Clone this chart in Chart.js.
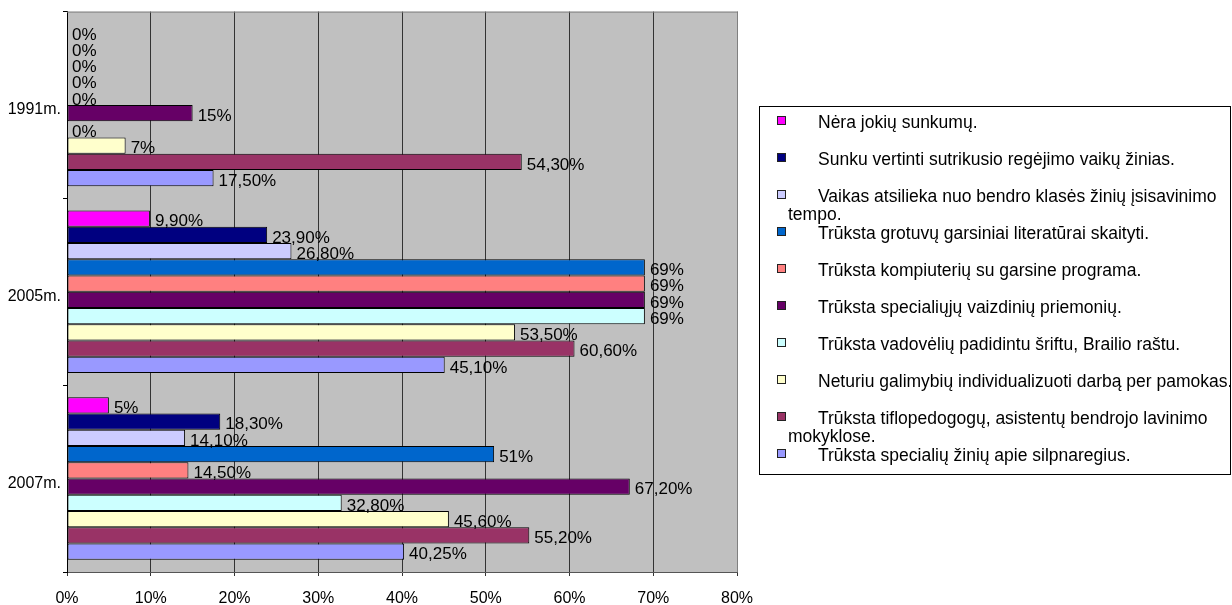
<!DOCTYPE html>
<html>
<head>
<meta charset="utf-8">
<script src="https://cdn.jsdelivr.net/npm/chart.js@4/dist/chart.umd.min.js"></script>
<style>
  body { margin: 0; background: #fff; font-family: "Liberation Sans", Arial, sans-serif; }
  #wrap { position: relative; width: 1232px; height: 605px; }
  #legend { position: absolute; left: 759px; top: 106px; width: 470px; height: 367px;
            border: 1px solid #000; background: #fff; }
  .item { position: absolute; left: 28px; width: 460px; line-height: 18px; font-size: 17.5px;
          text-indent: 30px; color: #000; white-space: normal; }
  .mark { position: absolute; left: 17px; width: 7px; height: 7px; border: 1px solid #222; }
</style>
</head>
<body>
<div id="wrap">
  <canvas id="chart1"></canvas>
  <div id="legend"></div>
</div>
<script>
// categories (top to bottom)
var years = ['1991m.', '2005m.', '2007m.'];

// series labels, same order as the legend
var names = [
  'Nėra jokių sunkumų.',
  'Sunku vertinti sutrikusio regėjimo vaikų žinias.',
  'Vaikas atsilieka nuo bendro klasės žinių įsisavinimo tempo.',
  'Trūksta grotuvų garsiniai literatūrai skaityti.',
  'Trūksta kompiuterių su garsine programa.',
  'Trūksta specialiųjų vaizdinių priemonių.',
  'Trūksta vadovėlių padidintu šriftu, Brailio raštu.',
  'Neturiu galimybių individualizuoti darbą per pamokas.',
  'Trūksta tiflopedogogų, asistentų bendrojo lavinimo mokyklose.',
  'Trūksta specialių žinių apie silpnaregius.'
];

var colors = ['#FF00FF', '#000080', '#CCCCFF', '#0066CC', '#FF8080',
              '#660066', '#CCFFFF', '#FFFFCC', '#993366', '#9999FF'];

// values per series: [1991, 2005, 2007]
var nera        = [0, 9.9, 5];
var sunku       = [0, 23.9, 18.3];
var vaikas      = [0, 26.8, 14.1];
var grotuvu     = [0, 69, 51];
var kompiuteriu = [0, 69, 14.5];
var vaizdiniu   = [15, 69, 67.2];
var vadoveliu   = [0, 69, 32.8];
var neturiu     = [7, 53.5, 45.6];
var tiflo       = [54.3, 60.6, 55.2];
var ziniu       = [17.5, 45.1, 40.25];

var xTicks = [0, 10, 20, 30, 40, 50, 60, 70, 80];

var series = [nera, sunku, vaikas, grotuvu, kompiuteriu, vaizdiniu, vadoveliu, neturiu, tiflo, ziniu];

var FONT = '"Liberation Sans", Arial, sans-serif';

function fmt(v) {
  if (v % 1 === 0) return v + '%';
  return v.toFixed(2).replace('.', ',') + '%';
}

var datasets = series.map(function (d, i) {
  return {
    label: names[i],
    data: d,
    backgroundColor: colors[i],
    borderColor: '#000',
    borderWidth: function (c) { return c.raw === 0 ? 0 : 1; },
    borderSkipped: false,
    categoryPercentage: 0.87,
    barPercentage: 1.0
  };
});

// grey plot area + top/right frame
var plotBg = {
  id: 'plotBg',
  beforeDraw: function (chart) {
    var a = chart.chartArea, c = chart.ctx;
    c.save();
    c.fillStyle = '#C0C0C0';
    c.fillRect(a.left, a.top, a.right - a.left, a.bottom - a.top);
    c.restore();
  },
  beforeDatasetsDraw: function (chart) {
    var a = chart.chartArea, c = chart.ctx;
    c.save();
    c.strokeStyle = '#808080';
    c.lineWidth = 1;
    c.beginPath();
    c.moveTo(a.left, a.top + 0.5);
    c.lineTo(a.right + 0.5, a.top + 0.5);
    c.lineTo(a.right + 0.5, a.bottom);
    c.stroke();
    c.restore();
  }
};

// value labels at the end of each bar
var valueLabels = {
  id: 'valueLabels',
  afterDatasetsDraw: function (chart) {
    var c = chart.ctx;
    c.save();
    c.font = '17px ' + FONT;
    c.fillStyle = '#000';
    c.textAlign = 'left';
    c.textBaseline = 'middle';
    chart.data.datasets.forEach(function (ds, i) {
      chart.getDatasetMeta(i).data.forEach(function (el, j) {
        c.fillText(fmt(ds.data[j]), el.x + 5, el.y + 3);
      });
    });
    c.restore();
  }
};

var ctx = document.getElementById('chart1').getContext('2d');
var chart = new Chart(ctx, {
  type: 'bar',
  data: { labels: years, datasets: datasets },
  plugins: [plotBg, valueLabels],
  options: {
    indexAxis: 'y',
    responsive: true,
    maintainAspectRatio: false,
    animation: false,
    layout: { padding: { top: 11, right: 495, left: 0, bottom: 0 } },
    plugins: {
      legend: { display: false },
      tooltip: { enabled: false }
    },
    scales: {
      x: {
        min: 0,
        max: 80,
        afterBuildTicks: function (s) { s.ticks = xTicks.map(function (v) { return { value: v }; }); },
        afterFit: function (s) { s.height = 33; },
        grid: { color: '#333', tickLength: 4, lineWidth: 1 },
        border: { color: '#555' },
        ticks: {
          color: '#000',
          font: { family: FONT, size: 16 },
          padding: 13,
          callback: function (v) { return v + '%'; }
        }
      },
      y: {
        afterFit: function (s) { s.width = 67; },
        grid: { color: '#000', drawOnChartArea: false, tickLength: 4, offset: true },
        border: { color: '#000' },
        ticks: {
          color: '#000',
          font: { family: FONT, size: 16 },
          padding: 2,
          labelOffset: 5
        }
      }
    }
  }
});

// legend built from the chart's own datasets
var leg = document.getElementById('legend');
chart.data.datasets.forEach(function (ds, i) {
  var top = 6 + 37 * i;
  var m = document.createElement('div');
  m.className = 'mark';
  m.style.top = (top + 3) + 'px';
  m.style.background = ds.backgroundColor;
  leg.appendChild(m);
  var t = document.createElement('div');
  t.className = 'item';
  t.style.top = top + 'px';
  t.textContent = ds.label;
  leg.appendChild(t);
});
</script>
</body>
</html>
